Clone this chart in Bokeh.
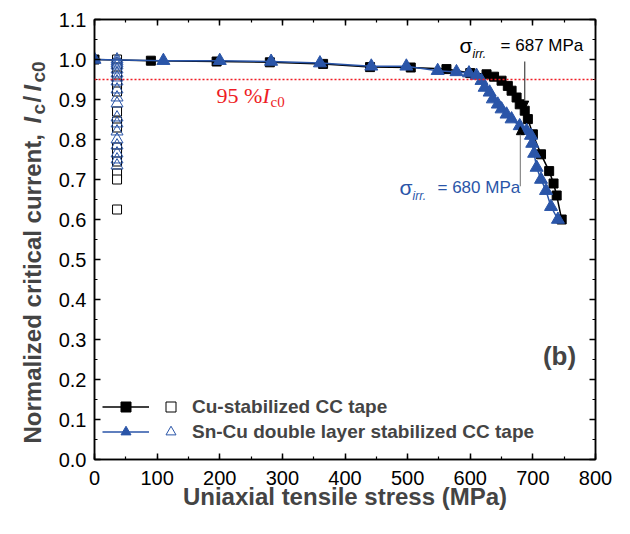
import math
from bokeh.plotting import figure
from bokeh.layouts import row
from bokeh.models import (Range1d, LinearAxis, SingleIntervalTicker, PrintfTickFormatter,
                          CustomJSTickFormatter, Label, Span, Arrow, NormalHead, Legend, LegendItem)
from bokeh.embed import file_html
from bokeh.resources import INLINE

# ---------------- data ----------------
cu_stress = [0, 90, 195, 280, 365, 440, 505, 562, 600, 626, 638, 650, 660, 666, 674, 679,
             687, 692, 700, 713, 726, 733, 738, 746]
cu_ic = [1.0, 0.997, 0.995, 0.993, 0.989, 0.981, 0.980, 0.976, 0.966, 0.963, 0.957, 0.947,
         0.934, 0.922, 0.905, 0.888, 0.872, 0.851, 0.813, 0.763, 0.721, 0.690, 0.660, 0.600]

sn_stress = [0, 110, 200, 282, 360, 442, 498, 548, 578, 598, 610, 618, 623, 631, 636, 644,
             650, 658, 666, 679, 690, 697, 699, 702, 706, 713, 721, 729, 740]
sn_ic = [1.0, 0.997, 0.997, 0.995, 0.991, 0.983, 0.983, 0.972, 0.969, 0.966, 0.960, 0.947,
         0.930, 0.918, 0.901, 0.888, 0.876, 0.863, 0.851, 0.834, 0.822, 0.810, 0.790, 0.765,
         0.730, 0.700, 0.672, 0.632, 0.600]

open_stress = 36
cu_open_ic = [1.0, 0.99, 0.98, 0.96, 0.94, 0.92, 0.87, 0.845, 0.83, 0.78, 0.765, 0.745,
              0.715, 0.70, 0.625]
sn_open_ic = [1.0, 0.995, 0.99, 0.985, 0.975, 0.965, 0.955, 0.945, 0.925, 0.905, 0.89,
              0.855, 0.84, 0.82, 0.80, 0.785, 0.765, 0.75, 0.735]

criterion = 0.95
sigma_cu = 687
sigma_sn = 680

x_ticks_interval = 100
y_ticks_interval = 0.1

# ---------------- style ----------------
FONT = "Liberation Sans"
SERIF = "Liberation Serif"
BLUE = "#2a55a8"
RED = "#ee1c25"
H = 522

p = figure(width=564, height=H, x_range=Range1d(0, 800), y_range=Range1d(0, 1.1),
           output_backend="svg", toolbar_location=None,
           min_border_left=44, min_border_right=19, min_border_top=19, min_border_bottom=63)
p.grid.visible = False
p.outline_line_color = "black"
p.outline_line_width = 1.5
p.background_fill_color = "white"
p.border_fill_color = "white"

xt = SingleIntervalTicker(interval=x_ticks_interval, num_minor_ticks=2)
yt = SingleIntervalTicker(interval=y_ticks_interval, num_minor_ticks=2)

for ax in (p.xaxis[0], p.yaxis[0]):
    ax.major_tick_in = 6
    ax.major_tick_out = 0
    ax.minor_tick_in = 3
    ax.minor_tick_out = 0
    ax.axis_line_width = 1.5
    ax.major_tick_line_width = 1.5
    ax.minor_tick_line_width = 1.2
    ax.major_label_text_font = FONT
    ax.major_label_text_font_size = "20px"
    ax.major_label_text_color = "black"

p.xaxis[0].ticker = xt
p.yaxis[0].ticker = yt
p.yaxis[0].formatter = PrintfTickFormatter(format="%.1f")
p.xaxis[0].major_label_standoff = 11
p.yaxis[0].major_label_standoff = 8
p.xaxis[0].axis_label = "Uniaxial tensile stress (MPa)"
p.xaxis[0].axis_label_text_font = FONT
p.xaxis[0].axis_label_text_font_style = "bold"
p.xaxis[0].axis_label_text_font_size = "24px"
p.xaxis[0].axis_label_standoff = -5

blank = CustomJSTickFormatter(code="return ''")
for side, tick in (("above", xt), ("right", yt)):
    ax = LinearAxis(ticker=tick, formatter=blank, major_tick_in=6, major_tick_out=0,
                    minor_tick_in=3, minor_tick_out=0, axis_line_width=1.5,
                    major_tick_line_width=1.5, minor_tick_line_width=1.2,
                    major_label_standoff=0, major_label_text_font_size="1px")
    p.add_layout(ax, side)

# ---------------- data glyphs ----------------
cu_line = p.line(cu_stress, cu_ic, line_color="black", line_width=1.5)
cu_pts = p.scatter(cu_stress, cu_ic, marker="square", size=9, color="black")

cu_open = p.scatter([open_stress] * len(cu_open_ic), cu_open_ic, marker="square", size=9,
                    line_color="black", fill_color="white", line_width=1)
sn_open = p.scatter([open_stress] * len(sn_open_ic), sn_open_ic, marker="triangle", size=12,
                    line_color=BLUE, fill_color=None, line_width=1)

sn_line = p.line(sn_stress, sn_ic, line_color=BLUE, line_width=1.5)
sn_pts = p.scatter(sn_stress, sn_ic, marker="triangle", size=13, color=BLUE)

# ---------------- criterion line ----------------
p.add_layout(Span(location=criterion, dimension="width", line_color=RED,
                  line_dash="2 2", line_width=1.5))

def lab(text, x, y, size, color="black", font=FONT, style="normal", xo=0, yo=0):
    p.add_layout(Label(x=x, y=y, text=text, x_offset=xo, y_offset=yo,
                       text_font=font, text_font_size=size, text_color=color,
                       text_font_style=style, text_baseline="middle", text_align="left"))

# 95 % Ic0
lab("95 %", 195, 0.91, "22px", RED, SERIF)
lab("I", 195, 0.91, "22px", RED, SERIF, "italic", xo=46)
lab("c0", 195, 0.91, "15px", RED, SERIF, xo=54, yo=-6)

# sigma annotations
lab("σ", 583, 1.034, "21px")
lab("irr.", 583, 1.034, "12px", style="italic", xo=13, yo=-8)
lab("= 687 MPa", 583, 1.034, "17px", xo=41)

lab("σ", 487, 0.68, "21px", BLUE)
lab("irr.", 487, 0.68, "12px", BLUE, style="italic", xo=13, yo=-8)
lab("= 680 MPa", 487, 0.68, "17px", BLUE, xo=38)

p.add_layout(Arrow(end=NormalHead(size=8, fill_color="black", line_color="black"),
                   x_start=sigma_cu, y_start=0.995, x_end=sigma_cu, y_end=0.876,
                   line_color="#444444", line_width=1.2))
p.add_layout(Arrow(end=NormalHead(size=8, fill_color="black", line_color="black"),
                   x_start=sigma_sn, y_start=0.683, x_end=sigma_sn, y_end=0.832,
                   line_color="#888888", line_width=1.2))

# (b)
p.add_layout(Label(x=465, y=104, x_units="screen", y_units="screen", text="(b)",
                   text_font=FONT, text_font_size="26px", text_font_style="bold",
                   text_align="center", text_baseline="middle"))

# ---------------- legends ----------------
leg1 = Legend(items=[LegendItem(label=" ", renderers=[cu_line, cu_pts]),
                     LegendItem(label=" ", renderers=[sn_line, sn_pts])],
              location=(8, 15), glyph_width=47, glyph_height=25, label_height=25,
              label_width=0, spacing=0, padding=0, margin=0, label_standoff=0,
              label_text_font_size="10px", background_fill_alpha=0, border_line_color=None)
leg2 = Legend(items=[LegendItem(label="Cu-stabilized CC tape", renderers=[cu_open]),
                     LegendItem(label="Sn-Cu double layer stabilized CC tape", renderers=[sn_open])],
              location=(64, 15), glyph_width=25, glyph_height=25, label_height=25,
              spacing=0, padding=0, margin=0, label_standoff=9,
              label_text_font=FONT, label_text_font_size="19px", label_text_font_style="bold",
              background_fill_alpha=0, border_line_color=None)
p.add_layout(leg1)
p.add_layout(leg2)

# ---------------- y-axis title (separate strip; its frame is aligned with the plot frame) ----
yl = figure(width=50, height=H, x_range=Range1d(0, 1), y_range=Range1d(0, 1),
            output_backend="svg", toolbar_location=None,
            x_axis_location=None, y_axis_location=None,
            min_border_left=0, min_border_right=0, min_border_top=0, min_border_bottom=0)
yl.grid.visible = False
yl.outline_line_color = None
yl.background_fill_color = "white"
yl.border_fill_color = "white"

def ylab(text, y, size, style="bold", xo=0):
    yl.add_layout(Label(x=32 + xo, y=y, x_units="screen", y_units="screen", text=text,
                        angle=math.pi / 2, text_font=FONT, text_font_size=size,
                        text_font_style=style, text_align="left", text_baseline="middle"))

ylab("Normalized critical current, ", 16, "24px")
ylab("I", 336, "24px", "bold italic")
ylab("c", 345, "19px", "bold", xo=6)
ylab("/", 357, "24px")
ylab("I", 368, "24px", "bold italic")
ylab("c0", 377, "19px", "bold", xo=6)

layout = row(yl, p, spacing=0)
open("out.html", "w").write(file_html(layout, INLINE))
